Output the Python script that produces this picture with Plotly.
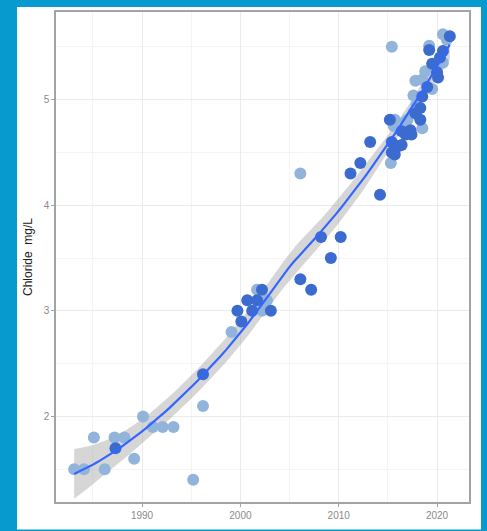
import numpy as np
import plotly.graph_objects as go

# ---- data ----
light_year = [1983.1, 1984.1, 1985.1, 1986.2, 1987.2, 1988.2, 1989.2, 1990.1, 1991.1, 1992.1,
              1993.2, 1995.2, 1996.2, 1999.1, 2002.2, 2002.7, 2001.7, 2006.1, 2015.4,
              2015.3, 2015.6, 2015.7, 2016.8, 2017.0, 2017.6, 2017.9, 2017.6, 2017.8, 2018.5,
              2018.5, 2018.8, 2019.5, 2019.2, 2020.6, 2021.0, 2020.6]
light_value = [1.50, 1.50, 1.80, 1.50, 1.80, 1.80, 1.60, 2.00, 1.90, 1.90,
               1.90, 1.40, 2.10, 2.80, 3.00, 3.10, 3.20, 4.30, 5.50,
               4.40, 4.75, 4.81, 4.79, 4.81, 4.88, 4.95, 5.04, 5.18, 5.19,
               4.73, 5.27, 5.10, 5.51, 5.35, 5.57, 5.62]

dark_year = [1987.3, 1996.2, 1999.7, 2000.1, 2000.7, 2001.2, 2001.7, 2002.2, 2003.1, 2006.1,
             2007.2, 2008.2, 2009.2, 2010.2, 2011.2, 2012.2, 2013.2, 2014.2, 2015.2, 2015.4,
             2015.4, 2015.7, 2016.1, 2016.4, 2016.4, 2016.8, 2017.3, 2017.4, 2017.8, 2018.3,
             2018.3, 2018.5, 2019.0, 2019.2, 2019.5, 2020.0, 2020.1, 2020.3, 2020.6, 2021.3]
dark_value = [1.70, 2.40, 3.00, 2.90, 3.10, 3.00, 3.10, 3.20, 3.00, 3.30,
              3.20, 3.70, 3.50, 3.70, 4.30, 4.40, 4.60, 4.10, 4.81, 4.60,
              4.50, 4.48, 4.56, 4.57, 4.70, 4.67, 4.71, 4.67, 4.87, 4.81,
              4.92, 5.03, 5.12, 5.47, 5.34, 5.26, 5.21, 5.40, 5.46, 5.60]

x_ticks = [1990, 2000, 2010, 2020]
y_ticks = [2, 3, 4, 5]

LIGHT = "#92B4DA"
DARK = "#3C6BD0"
SMOOTH = "#3366FF"
BORDER_BLUE = "#079ACF"
SPAN = 0.9


# ---- loess smoother (degree 2) with 95% band, like geom_smooth ----
def loess_weights(x, x0, span):
    n = len(x)
    q = int(np.floor(n * span))
    d = np.abs(x - x0)
    h = np.sort(d)[q - 1]
    u = np.clip(d / h, 0, 1)
    w = (1 - u ** 3) ** 3
    X = np.column_stack([np.ones(n), x - x0, (x - x0) ** 2])
    XtW = X.T * w
    A = XtW @ X
    return np.linalg.solve(A, XtW)[0]


x_all = np.array(light_year + dark_year, dtype=float)
y_all = np.array(light_value + dark_value, dtype=float)
n = len(x_all)
L = np.array([loess_weights(x_all, xi, SPAN) for xi in x_all])
IL = np.eye(n) - L
M = IL.T @ IL
d1 = np.trace(M)
d2 = np.trace(M @ M)
res = y_all - L @ y_all
sigma = np.sqrt(np.sum(res ** 2) / d1)
df = d1 ** 2 / d2
z = 1.959964
tq = z + (z ** 3 + z) / (4 * df) + (5 * z ** 5 + 16 * z ** 3 + 3 * z) / (96 * df ** 2)

xs = np.linspace(x_all.min(), x_all.max(), 80)
fit, lo, hi = [], [], []
for x0 in xs:
    l = loess_weights(x_all, x0, SPAN)
    f = l @ y_all
    se = sigma * np.sqrt(np.sum(l ** 2))
    fit.append(f)
    lo.append(f - tq * se)
    hi.append(f + tq * se)

fig = go.Figure()
fig.add_trace(go.Scatter(x=np.concatenate([xs, xs[::-1]]), y=np.concatenate([hi, lo[::-1]]),
                         fill="toself", fillcolor="rgba(153,153,153,0.4)",
                         line=dict(width=0), hoverinfo="skip", showlegend=False))
fig.add_trace(go.Scatter(x=light_year, y=light_value, mode="markers",
                         marker=dict(size=12, color=LIGHT), showlegend=False))
fig.add_trace(go.Scatter(x=dark_year, y=dark_value, mode="markers",
                         marker=dict(size=12, color=DARK), showlegend=False))
fig.add_trace(go.Scatter(x=xs, y=fit, mode="lines",
                         line=dict(color=SMOOTH, width=2.2), showlegend=False))

# plot area in pixels: left 56, right 469, top 10, bottom 508
W, H = 487, 531
ml, mr, mt, mb = 56, 18, 10, 23
pw, ph = W - ml - mr, H - mt - mb
fig.add_shape(type="rect", xref="paper", yref="paper", layer="below",
              x0=(17 - ml) / pw, x1=(481 - ml) / pw,
              y0=-(mb + 5) / ph, y1=1 + 5 / ph,
              fillcolor="white", line=dict(width=0))

axis_common = dict(showline=True, mirror=True, linecolor="#A3A3A3", linewidth=1.5,
                   ticks="outside", ticklen=3, tickcolor="#A3A3A3", tickwidth=1,
                   gridcolor="#EBEBEB", gridwidth=1, zeroline=False,
                   tickfont=dict(family="Liberation Sans, Arial", size=10, color="#8A8A8A"))

fig.update_xaxes(range=[1981.25, 2023.25], tickvals=x_ticks,
                 minor=dict(dtick=5, tick0=1990, showgrid=True, gridcolor="#F4F4F4", ticks=""),
                 **axis_common)
fig.update_yaxes(range=[1.19, 5.83], tickvals=y_ticks,
                 minor=dict(dtick=0.5, tick0=2, showgrid=True, gridcolor="#F4F4F4", ticks=""),
                 title=dict(text="Chloride  mg/L", standoff=8,
                            font=dict(family="Liberation Sans, Arial", size=12, color="#222222")),
                 **axis_common)

fig.update_layout(width=W, height=H, margin=dict(l=ml, r=mr, t=mt, b=mb),
                  paper_bgcolor=BORDER_BLUE, plot_bgcolor="white", showlegend=False)

fig.write_html("out.html", config={"displayModeBar": False},
               post_script="document.body.style.margin='0';document.body.style.overflow='hidden';")
